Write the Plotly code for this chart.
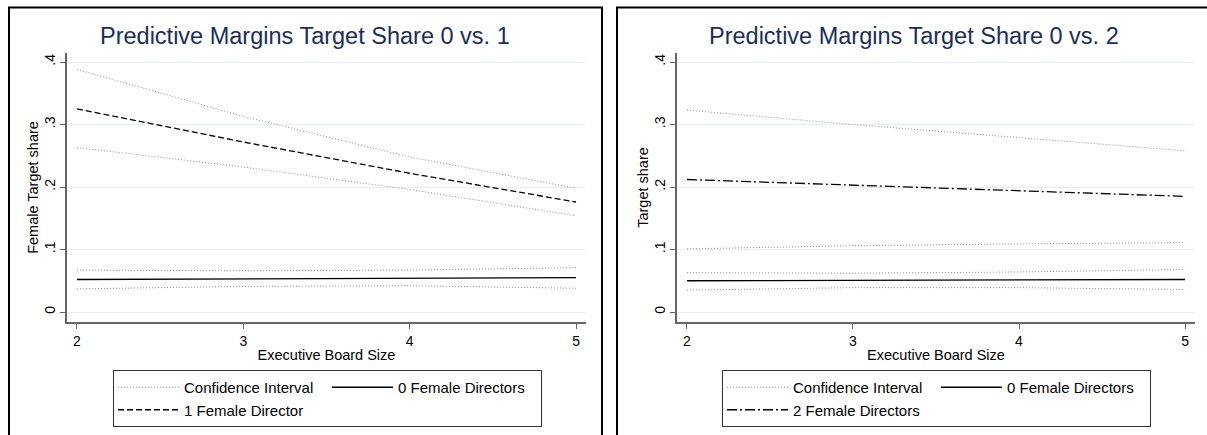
import plotly.graph_objects as go

# Executive board size (x) and predicted female target share margins
board_size = [2, 3, 4, 5]

# Panel 1: 0 vs. 1 female director
p1_zero = [0.052, 0.053, 0.054, 0.055]
p1_zero_lo = [0.037, 0.041, 0.042, 0.038]
p1_zero_hi = [0.067, 0.066, 0.067, 0.071]
p1_one = [0.325, 0.272, 0.222, 0.176]
p1_one_lo = [0.263, 0.232, 0.196, 0.154]
p1_one_hi = [0.388, 0.313, 0.248, 0.198]

# Panel 2: 0 vs. 2 female directors
p2_zero = [0.050, 0.051, 0.051, 0.052]
p2_zero_lo = [0.035, 0.039, 0.039, 0.036]
p2_zero_hi = [0.063, 0.062, 0.064, 0.068]
p2_two = [0.212, 0.203, 0.194, 0.185]
p2_two_lo = [0.101, 0.106, 0.109, 0.111]
p2_two_hi = [0.323, 0.300, 0.279, 0.258]

y_tickvals = [0, 0.1, 0.2, 0.3, 0.4]
y_ticktext = ["0", ".1", ".2", ".3", ".4"]
x_tickvals = [2, 3, 4, 5]

titles = ["Predictive Margins Target Share 0 vs. 1",
          "Predictive Margins Target Share 0 vs. 2"]
y_titles = ["Female Target share", "Target share"]
x_title = "Executive Board Size"

W, H = 1207, 435
FONT = "Liberation Sans, Arial, sans-serif"
TITLE_COLOR = "#1a2e5a"
GRID = "#e6eff0"
AXIS = "#666666"
CI_COLOR = "#8c8c8c"


def px_x(p):
    return p / W


def px_y(p):
    return 1 - p / H


fig = go.Figure()

panels = [
    dict(xa="x", ya="y", legend="legend",
         zero=p1_zero, zlo=p1_zero_lo, zhi=p1_zero_hi,
         trt=p1_one, tlo=p1_one_lo, thi=p1_one_hi,
         trt_name="1 Female Director", trt_dash="6px,3px"),
    dict(xa="x2", ya="y2", legend="legend2",
         zero=p2_zero, zlo=p2_zero_lo, zhi=p2_zero_hi,
         trt=p2_two, tlo=p2_two_lo, thi=p2_two_hi,
         trt_name="2 Female Directors", trt_dash="10px,3px,2px,3px"),
]

for p in panels:
    common = dict(xaxis=p["xa"], yaxis=p["ya"], legend=p["legend"],
                  mode="lines", hoverinfo="skip")
    ci_line = dict(color=CI_COLOR, width=1, dash="1px,2px")
    fig.add_trace(go.Scatter(x=board_size, y=p["thi"], name="Confidence Interval",
                             legendgroup="a", showlegend=True, line=ci_line, **common))
    for ys in (p["tlo"], p["zhi"], p["zlo"]):
        fig.add_trace(go.Scatter(x=board_size, y=ys, name="Confidence Interval",
                                 legendgroup="a", showlegend=False, line=ci_line, **common))
    fig.add_trace(go.Scatter(x=board_size, y=p["trt"], name=p["trt_name"],
                             legendgroup="a", showlegend=True,
                             line=dict(color="black", width=1.3, dash=p["trt_dash"]), **common))
    fig.add_trace(go.Scatter(x=board_size, y=p["zero"], name="0 Female Directors",
                             legendgroup="b", showlegend=True,
                             line=dict(color="black", width=1.3), **common))

y_dom = [px_y(322), px_y(53)]
x_doms = [[px_x(67), px_x(586)], [px_x(677), px_x(1195)]]

axis_common_x = dict(range=[1.94, 5.06], tickvals=x_tickvals, showgrid=False,
                     zeroline=False, showline=True, linecolor=AXIS, linewidth=1.5,
                     ticks="outside", ticklen=5, tickcolor=AXIS, tickwidth=1.2,
                     tickfont=dict(size=14, color="black", family=FONT),
                     title=dict(text=x_title, font=dict(size=14.5, color="black", family=FONT),
                                standoff=2))
axis_common_y = dict(range=[-0.016, 0.4144], tickvals=y_tickvals, ticktext=y_ticktext,
                     showgrid=True, gridcolor=GRID, gridwidth=1, zeroline=False,
                     showline=True, linecolor=AXIS, linewidth=1.5,
                     ticks="outside", ticklen=5, tickcolor=AXIS, tickwidth=1.2,
                     tickangle=-90,
                     tickfont=dict(size=14, color="black", family=FONT))

fig.update_layout(
    xaxis=dict(domain=x_doms[0], anchor="y", **axis_common_x),
    xaxis2=dict(domain=x_doms[1], anchor="y2", **axis_common_x),
    yaxis=dict(domain=y_dom, anchor="x",
               title=dict(text=y_titles[0], font=dict(size=14.5, color="black", family=FONT),
                          standoff=0),
               **axis_common_y),
    yaxis2=dict(domain=y_dom, anchor="x2",
                title=dict(text=y_titles[1], font=dict(size=14.5, color="black", family=FONT),
                           standoff=0),
                **axis_common_y),
)

legend_common = dict(orientation="h", xanchor="left", yanchor="top",
                     bordercolor="#333333", borderwidth=1, bgcolor="white",
                     font=dict(size=15, color="black", family=FONT),
                     itemwidth=61, entrywidth=138, entrywidthmode="pixels",
                     traceorder="grouped",
                     itemclick=False, itemdoubleclick=False)
fig.update_layout(
    legend=dict(x=px_x(113), y=px_y(370), **legend_common),
    legend2=dict(x=px_x(722), y=px_y(370), **legend_common),
)

# Panel titles
for i, t in enumerate(titles):
    cx = (x_doms[i][0] + x_doms[i][1]) / 2 - px_x(22)
    fig.add_annotation(text=t, x=cx, y=px_y(36), xref="paper", yref="paper",
                       xanchor="center", yanchor="middle", showarrow=False,
                       font=dict(size=23.5, color=TITLE_COLOR, family=FONT))

# Outer graph-region frames
for x0, x1 in [(9, 602), (617, 1215)]:
    fig.add_shape(type="rect", xref="paper", yref="paper",
                  x0=px_x(x0), x1=px_x(x1), y0=px_y(460), y1=px_y(7.5),
                  line=dict(color="black", width=2), fillcolor="rgba(0,0,0,0)",
                  layer="above")

fig.update_layout(
    width=W, height=H,
    margin=dict(l=0, r=0, t=0, b=0),
    paper_bgcolor="white", plot_bgcolor="white",
    font=dict(family=FONT, color="black"),
    hovermode=False,
)

fig.write_html("out.html", config={"displayModeBar": False})
